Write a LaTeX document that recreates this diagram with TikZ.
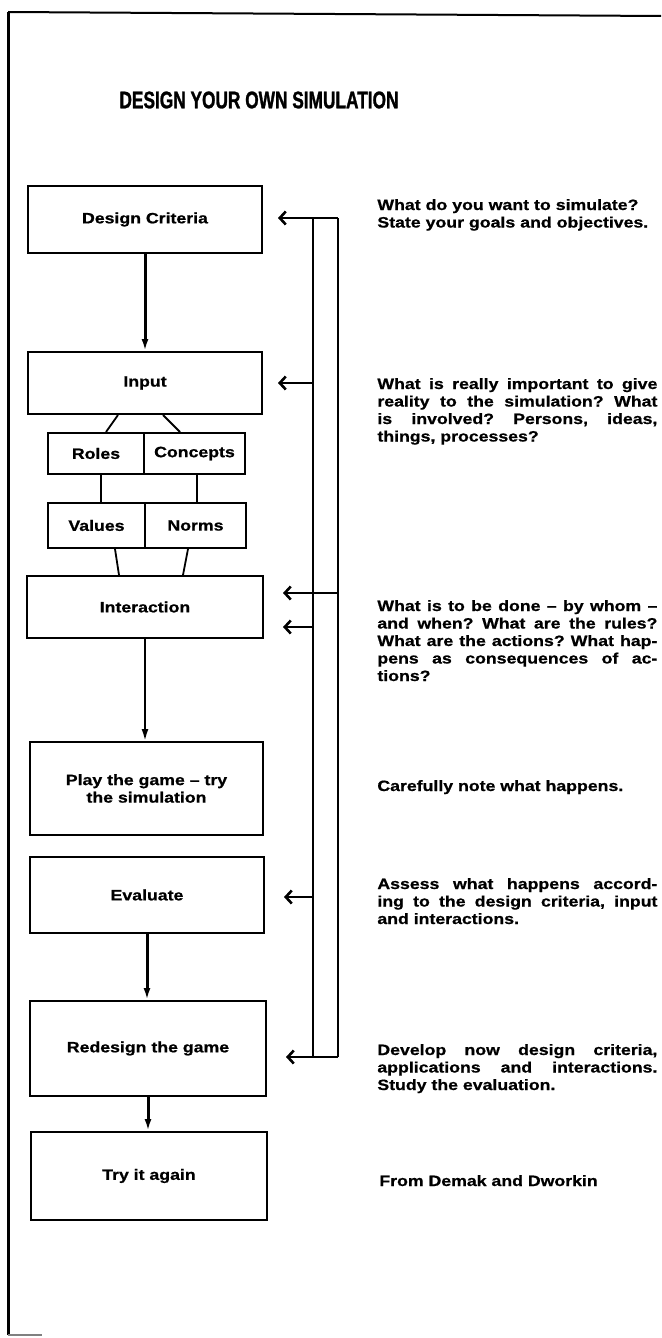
\documentclass[tikz,border=0pt]{standalone}
\usepackage{fontspec}
\setmainfont{Liberation Sans}[FakeStretch=1.18, BoldFeatures={FakeBold=0.8}]
\newfontfamily\titlefont{Liberation Sans Bold}[FakeStretch=0.72, FakeBold=1.2]
\usetikzlibrary{calc, arrows.meta}
\newcommand{\txtfont}{\fontsize{7.5}{8.75}\selectfont\bfseries\frenchspacing}

\begin{document}
\begin{tikzpicture}[x=0.5pt, y=-0.5pt, font=\txtfont,
    box/.style={draw, line width=1pt, minimum width=117pt, align=center, inner sep=0pt},
    part/.style={draw, line width=1pt, minimum height=20.5pt, inner sep=0pt},
    flow/.style={-{Latex[length=6pt, width=3.5pt]}, line width=1pt},
    rail/.style={line width=0.9pt},
    back/.style={-{Straight Barb[length=3pt, width=6.5pt]}, line width=1.3pt},
    note/.style={anchor=base west, text width=140pt, align=justify, inner sep=0pt}]
        \useasboundingbox (0,0) rectangle (661,1338);
        % frame
        \draw[line width=1pt] (661,16) -- (8,12);
        \draw[line width=1.5pt] (8,12) -- (8,1335);
        \draw[gray, line width=0.6pt] (8,1335) -- (42,1335);
        \node[font=\titlefont\fontsize{12}{14}\selectfont] (title) at (259,100) {DESIGN YOUR OWN SIMULATION};

        % boxes
        \node[box, minimum height=33.5pt] (crit) at (145,219.5) {Design Criteria};
        \node[box, minimum height=31pt] (input) at (145,383) {Input};
        \node[part, minimum width=48pt] (roles) at (96,453.5) {Roles};
        \node[part, minimum width=50.5pt] (concepts) at (194.5,453.5) {Concepts};
        \node[part, minimum width=48.5pt, minimum height=22.5pt] (values) at (96.5,525.5) {Values};
        \node[part, minimum width=50.5pt, minimum height=22.5pt] (norms) at (195.5,525.5) {Norms};
        \node[box, minimum width=118pt, minimum height=31pt] (inter) at (145,607) {Interaction};
        \node[box, minimum width=116.5pt, minimum height=46.5pt] (play) at (146.5,788.5) {Play the game -- try\\the simulation};
        \node[box, minimum height=38pt] (eval) at (147,895) {Evaluate};
        \node[box, minimum width=118pt, minimum height=47.5pt] (redesign) at (148,1048.5) {Redesign the game};
        \node[box, minimum width=118pt, minimum height=44pt] (again) at (149,1176) {Try it again};

        % links between the parts
        \coordinate (rv) at ($(roles.south)+(5,0)$);
        \coordinate (cn) at ($(concepts.south)+(2.5,0)$);
        \draw[line width=0.9pt] ($(input.south)+(-27,0)$) -- ($(roles.north)+(10,0)$);
        \draw[line width=0.9pt] ($(input.south)+(18,0)$) -- ($(concepts.north)+(-14.5,0)$);
        \draw[line width=0.9pt] (rv) -- (rv |- values.north);
        \draw[line width=0.9pt] (cn) -- (cn |- norms.north);
        \draw[line width=0.9pt] ($(values.south)+(18.5,0)$) -- ($(inter.north)+(-26,0)$);
        \draw[line width=0.9pt] ($(norms.south)+(-7.5,0)$) -- ($(inter.north)+(38,0)$);

        % main flow
        \draw[flow, line width=1.5pt] (crit) -- (input);
        \draw[flow] (inter) -- (inter |- play.north);
        \draw[flow, line width=1.5pt] (eval) -- (eval |- redesign.north);
        \draw[flow, line width=1.5pt] (redesign) -- (redesign |- again.north);

        % feedback rails
        \coordinate (otop) at (338,218);
        \coordinate (obot) at (338,1057);
        \coordinate (itop) at (313,218);
        \coordinate (ibot) at (313,1057);
        \draw[rail] (otop) -- (obot);
        \draw[rail] (itop) -- (ibot);
        \draw[back] (otop) -- ([xshift=7.5pt]crit.east |- otop);
        \draw[back] (obot) -- ([xshift=9.5pt]redesign.east |- obot);
        \draw[back] (otop |- 0,593) -- ([xshift=9.5pt]inter.east |- 0,593);
        \draw[back] (itop |- 0,383) -- ([xshift=7.5pt]input.east |- 0,383);
        \foreach \y/\n in {627/inter, 897/eval}
            \draw[back] (itop |- 0,\y) -- ([xshift=9.5pt]\n.east |- 0,\y);

        % notes
        \node[note, align=left] (n1) at (377,210) {What do you want to simulate?\\State your goals and objectives.};
        \node[note] (n2) at (377,389) {What is really important to give\linebreak reality to the simulation? What\linebreak is involved? Persons, ideas,\linebreak things, processes?};
        \node[note] (n3) at (377,611) {What is to be done -- by whom --\linebreak and when? What are the rules?\linebreak What are the actions? What hap-\linebreak pens as consequences of ac-\linebreak tions?};
        \node[note] (n4) at (377,791) {Carefully note what happens.};
        \node[note] (n5) at (377,889) {Assess what happens accord-\linebreak ing to the design criteria, input\linebreak and interactions.};
        \node[note] (n6) at (377,1055) {Develop now design criteria,\linebreak applications and interactions.\linebreak Study the evaluation.};
        \node[note] (n7) at (379,1186) {From Demak and Dworkin};
\end{tikzpicture}
\end{document}
